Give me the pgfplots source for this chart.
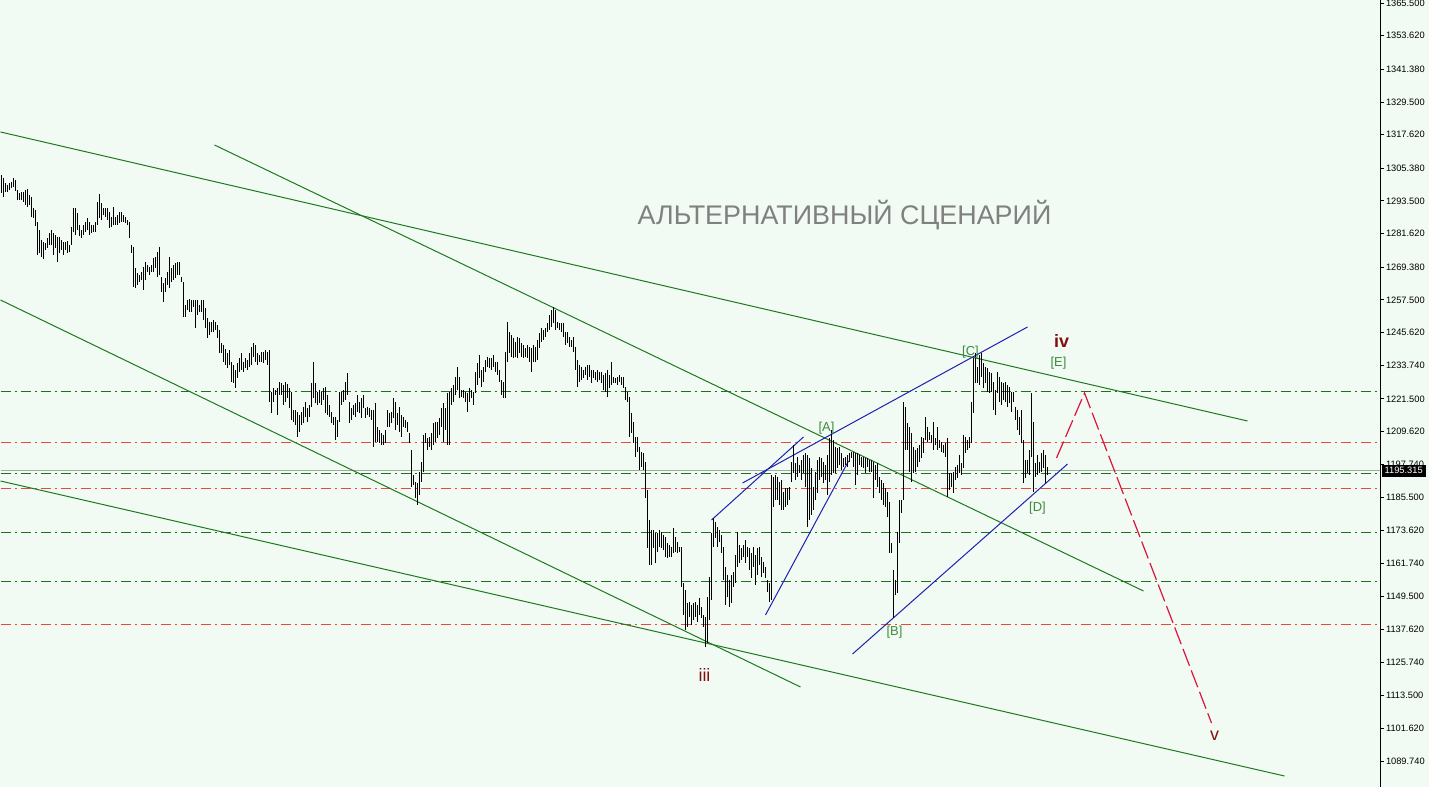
\documentclass[border=0pt]{standalone}
\usepackage{pgfplots}
\pgfplotsset{compat=1.18}
\usepackage{pgfplotstable}
\usepackage{fontspec}
\setmainfont{Liberation Sans}
\definecolor{bgc}{RGB}{241,250,243}
\definecolor{trendg}{RGB}{30,122,30}
\definecolor{hgreen}{RGB}{28,115,28}
\definecolor{hred}{RGB}{232,73,63}
\definecolor{bline}{RGB}{32,32,176}
\definecolor{fcast}{RGB}{220,20,60}
\definecolor{wave}{RGB}{128,16,16}
\definecolor{lblg}{RGB}{60,140,60}
\definecolor{titleg}{RGB}{128,128,128}

\pgfplotstableread{
x h l
1 1302.9 1296.2
3 1301.7 1295.0
5 1299.9 1296.9
7 1299.3 1296.6
9 1299.9 1297.5
11 1300.5 1298.1
13 1302.0 1298.7
15 1301.1 1297.1
17 1297.5 1293.8
19 1296.2 1293.8
21 1296.6 1293.8
23 1296.9 1293.2
25 1297.5 1292.0
27 1297.8 1291.4
29 1295.6 1292.0
31 1295.0 1287.8
33 1291.0 1287.2
35 1290.2 1284.5
37 1285.9 1273.8
39 1282.9 1274.4
41 1279.3 1273.2
43 1278.7 1272.4
45 1278.1 1275.6
47 1279.9 1276.2
49 1281.7 1277.4
51 1282.9 1277.4
53 1281.7 1273.8
55 1281.1 1276.2
57 1280.5 1271.4
59 1280.5 1274.4
61 1279.3 1275.6
63 1278.7 1273.8
65 1278.7 1275.6
67 1278.9 1274.4
69 1277.5 1274.8
71 1284.1 1277.4
73 1290.8 1282.3
75 1290.8 1281.1
77 1289.0 1282.9
79 1284.7 1280.8
81 1282.9 1279.9
83 1284.7 1281.1
85 1285.9 1282.3
87 1287.2 1282.9
89 1285.9 1281.1
91 1284.7 1281.7
93 1284.7 1282.3
95 1285.9 1282.3
97 1293.2 1284.7
99 1296.2 1287.2
101 1292.6 1286.6
103 1290.8 1288.4
105 1290.8 1287.8
107 1290.8 1286.6
109 1289.6 1283.5
111 1287.8 1284.1
113 1291.4 1284.7
115 1287.8 1284.7
117 1288.4 1284.7
119 1289.6 1285.3
121 1289.6 1285.9
123 1288.4 1285.9
125 1287.8 1285.3
127 1286.6 1284.7
129 1285.9 1279.9
131 1277.4 1274.4
133 1276.8 1262.3
135 1269.0 1261.7
137 1267.1 1262.9
139 1266.5 1264.1
141 1267.7 1264.7
143 1269.6 1261.1
145 1271.1 1264.7
147 1270.2 1267.7
149 1269.6 1266.5
151 1270.2 1267.7
153 1272.8 1267.7
155 1273.2 1269.0
157 1275.0 1265.9
159 1276.8 1266.5
161 1265.9 1260.5
163 1263.5 1256.8
165 1265.3 1260.5
167 1267.7 1262.9
169 1273.2 1261.7
171 1269.0 1264.1
173 1270.2 1264.7
175 1270.8 1265.3
177 1271.4 1266.5
179 1271.4 1266.5
181 1265.9 1264.1
183 1264.1 1251.4
185 1255.6 1251.4
187 1257.4 1253.8
189 1257.8 1253.2
191 1257.4 1253.2
193 1257.4 1255.0
195 1257.4 1247.1
197 1257.4 1252.0
199 1255.6 1253.2
201 1257.4 1253.2
203 1257.4 1250.2
205 1254.4 1247.1
207 1250.8 1243.5
209 1249.6 1244.7
211 1249.6 1245.9
213 1250.2 1245.9
215 1249.6 1246.5
217 1248.3 1243.5
219 1246.5 1238.0
221 1241.7 1238.0
223 1241.1 1235.0
225 1239.8 1233.8
227 1238.0 1232.6
229 1239.2 1233.8
231 1235.0 1227.7
233 1233.8 1227.1
235 1232.0 1225.3
237 1234.4 1228.9
239 1236.2 1231.4
241 1238.0 1232.0
243 1235.0 1231.4
245 1236.2 1232.6
247 1235.6 1232.0
249 1238.0 1233.2
251 1240.5 1233.8
253 1241.7 1236.8
255 1241.1 1235.0
257 1238.0 1233.8
259 1237.4 1235.0
261 1238.6 1235.0
263 1238.6 1234.4
265 1239.2 1235.6
267 1238.6 1233.8
269 1239.3 1220.5
271 1224.1 1216.2
273 1225.3 1220.5
275 1224.7 1222.9
277 1225.3 1215.6
279 1227.5 1222.9
281 1227.1 1222.9
283 1226.5 1219.3
285 1227.7 1220.5
287 1226.8 1221.7
289 1225.3 1218.0
291 1224.1 1213.8
293 1217.4 1213.2
295 1217.4 1212.0
297 1216.8 1207.7
299 1215.6 1209.5
301 1216.8 1212.0
303 1218.6 1212.6
305 1220.5 1215.0
307 1218.0 1213.2
309 1219.3 1215.0
311 1227.1 1218.6
313 1235.0 1221.7
315 1227.1 1219.9
317 1224.1 1219.3
319 1224.7 1219.9
321 1224.1 1219.3
323 1225.3 1221.1
325 1225.9 1216.2
327 1222.9 1215.6
329 1219.3 1215.0
331 1216.8 1212.6
333 1215.0 1212.0
335 1215.0 1206.5
337 1213.8 1207.7
339 1224.1 1213.2
341 1224.1 1219.3
343 1224.7 1220.5
345 1227.7 1221.1
347 1230.8 1222.9
349 1220.5 1212.6
351 1218.0 1213.8
353 1219.3 1215.6
355 1219.9 1215.0
357 1222.9 1216.8
359 1220.5 1216.2
361 1221.7 1214.4
363 1222.9 1218.0
365 1218.0 1214.4
367 1218.6 1215.6
369 1218.0 1215.0
371 1217.4 1213.8
373 1217.4 1204.1
375 1219.9 1205.9
377 1211.4 1205.9
379 1210.2 1205.3
381 1209.0 1204.7
383 1208.3 1204.7
385 1210.2 1205.3
387 1217.4 1211.4
389 1216.2 1211.4
391 1216.8 1212.6
393 1221.7 1214.4
395 1220.5 1210.2
397 1216.2 1212.0
399 1218.6 1209.5
401 1215.6 1207.7
403 1215.0 1211.4
405 1213.8 1210.8
407 1213.2 1209.5
409 1208.9 1205.3
411 1202.9 1189.5
413 1193.8 1190.2
415 1191.4 1185.3
417 1190.8 1182.9
419 1195.0 1186.5
421 1198.6 1191.4
423 1208.3 1195.0
425 1208.9 1205.3
427 1207.1 1202.9
429 1207.7 1204.1
431 1208.9 1202.9
433 1212.6 1204.7
435 1213.2 1205.9
437 1213.2 1207.1
439 1214.4 1208.3
441 1218.0 1211.4
443 1219.9 1205.9
445 1218.0 1210.2
447 1223.5 1204.7
449 1224.1 1204.7
451 1225.3 1219.3
453 1226.5 1220.5
455 1229.6 1222.9
457 1233.2 1224.7
459 1229.6 1221.7
461 1224.7 1222.3
463 1224.7 1221.7
465 1224.1 1220.5
467 1223.5 1216.8
469 1225.3 1220.5
471 1224.7 1221.7
473 1224.1 1219.3
475 1231.4 1223.5
477 1234.4 1226.5
479 1237.4 1229.0
481 1232.0 1225.9
483 1233.2 1227.7
485 1235.6 1231.4
487 1236.8 1233.2
489 1236.2 1232.6
491 1236.2 1232.0
493 1237.4 1233.2
495 1235.0 1231.4
497 1235.0 1230.2
499 1232.0 1227.7
501 1228.4 1222.9
503 1227.7 1221.7
505 1238.6 1221.7
507 1249.6 1235.0
509 1245.9 1238.0
511 1244.7 1236.8
513 1243.5 1236.2
515 1242.3 1236.8
517 1244.1 1236.2
519 1243.5 1238.0
521 1241.7 1236.8
523 1241.1 1236.2
525 1239.9 1236.8
527 1241.1 1236.2
529 1240.5 1235.0
531 1239.9 1231.4
533 1241.1 1235.0
535 1240.5 1235.0
537 1242.9 1235.6
539 1245.3 1239.9
541 1247.1 1242.3
543 1246.5 1242.9
545 1247.1 1244.1
547 1249.0 1245.9
549 1252.0 1246.5
551 1253.8 1247.7
553 1255.0 1249.0
555 1253.8 1246.5
557 1249.6 1247.1
559 1249.0 1246.5
561 1249.0 1245.9
563 1249.0 1244.1
565 1245.9 1241.1
567 1245.9 1241.7
569 1244.1 1240.5
571 1242.9 1240.5
573 1244.1 1238.6
575 1240.5 1232.0
577 1235.6 1225.9
579 1233.8 1227.7
581 1233.2 1228.3
583 1232.0 1228.9
585 1233.2 1230.2
587 1233.8 1228.3
589 1233.8 1229.6
591 1232.0 1227.1
593 1232.0 1228.9
595 1231.4 1228.3
597 1232.0 1227.7
599 1231.4 1228.3
601 1231.4 1227.1
603 1230.2 1224.7
605 1230.8 1224.1
607 1232.0 1222.3
609 1230.2 1225.3
611 1235.0 1226.5
613 1229.6 1227.1
615 1229.0 1227.1
617 1229.6 1226.5
619 1230.2 1227.7
621 1229.6 1226.5
623 1229.6 1225.3
625 1225.9 1221.1
627 1224.0 1220.5
629 1222.3 1207.7
631 1216.2 1208.9
633 1213.2 1205.3
635 1207.7 1200.5
637 1207.7 1202.3
639 1204.1 1195.6
641 1202.3 1196.8
643 1201.7 1195.6
645 1198.6 1185.3
647 1188.3 1167.1
649 1177.4 1161.0
651 1173.8 1161.0
653 1173.8 1167.1
655 1172.6 1161.6
657 1172.6 1165.9
659 1173.8 1167.7
661 1173.2 1167.1
663 1171.9 1166.5
665 1171.4 1164.1
667 1168.9 1163.5
669 1168.3 1164.1
671 1167.7 1164.1
673 1174.4 1165.3
675 1171.4 1165.9
677 1169.5 1165.3
679 1167.7 1165.9
681 1167.7 1153.2
683 1154.4 1142.9
685 1151.9 1137.4
687 1147.1 1138.6
689 1147.7 1142.3
691 1146.5 1139.2
693 1147.1 1141.0
695 1147.7 1142.3
697 1146.5 1140.4
699 1148.9 1142.9
701 1145.9 1141.6
703 1142.9 1138.6
705 1142.3 1131.3
707 1149.5 1132.5
709 1156.8 1141.0
711 1172.6 1148.3
713 1178.0 1167.7
715 1176.8 1170.8
717 1175.0 1167.7
719 1173.8 1169.5
721 1171.9 1165.3
723 1167.7 1155.6
725 1160.4 1146.5
727 1157.4 1149.5
729 1155.6 1145.9
731 1157.4 1147.1
733 1158.6 1153.2
735 1164.7 1154.4
737 1173.2 1160.4
739 1168.3 1161.6
741 1167.1 1162.9
743 1168.3 1164.1
745 1170.1 1161.6
747 1167.7 1164.1
749 1167.1 1159.2
751 1165.3 1156.2
753 1167.7 1160.4
755 1164.7 1153.8
757 1167.1 1157.4
759 1167.7 1161.0
761 1164.1 1156.8
763 1162.2 1158.0
765 1160.4 1156.2
767 1155.6 1151.3
769 1154.4 1147.7
771 1193.8 1148.3
773 1193.2 1182.3
775 1193.8 1184.7
777 1193.2 1184.7
779 1191.4 1182.9
781 1191.9 1181.1
783 1187.7 1181.1
785 1188.9 1182.3
787 1188.9 1182.9
789 1189.5 1184.7
791 1198.6 1191.4
793 1204.7 1194.4
795 1198.0 1191.9
797 1200.5 1193.2
799 1197.4 1194.4
801 1199.2 1192.0
803 1201.1 1194.4
805 1201.7 1189.5
807 1201.1 1175.0
809 1199.8 1177.4
811 1196.2 1179.2
813 1189.5 1181.0
815 1195.0 1184.7
817 1199.2 1187.1
819 1200.5 1192.0
821 1199.8 1193.2
823 1198.6 1190.8
825 1197.4 1192.0
827 1201.1 1186.5
829 1207.1 1191.4
831 1210.2 1193.8
833 1206.5 1194.4
835 1204.1 1194.4
837 1203.5 1196.2
839 1204.1 1197.4
841 1201.7 1195.6
843 1199.8 1196.8
845 1200.5 1197.4
847 1201.1 1196.8
849 1201.7 1198.6
851 1202.3 1199.8
853 1202.3 1196.8
855 1201.7 1190.1
857 1201.7 1193.8
859 1201.1 1197.4
861 1200.5 1196.8
863 1200.5 1196.2
865 1199.8 1194.4
867 1199.8 1196.8
869 1199.2 1195.0
871 1199.2 1195.0
873 1198.6 1185.3
875 1197.4 1192.0
877 1198.0 1189.5
879 1193.2 1187.1
881 1192.0 1184.7
883 1190.8 1182.9
885 1188.9 1182.3
887 1187.7 1178.6
889 1184.1 1165.3
891 1168.9 1165.3
893 1159.2 1141.6
895 1155.6 1150.1
897 1173.2 1150.7
899 1184.7 1168.9
901 1184.7 1179.8
903 1220.5 1184.7
905 1218.6 1202.9
907 1212.6 1202.9
909 1211.4 1195.0
911 1208.9 1191.4
913 1204.1 1194.4
915 1202.9 1195.0
917 1203.5 1196.8
919 1204.7 1198.6
921 1207.7 1199.8
923 1207.1 1201.7
925 1215.0 1206.5
927 1211.4 1205.9
929 1209.5 1206.5
931 1208.3 1205.3
933 1213.2 1202.9
935 1207.1 1204.7
937 1211.4 1202.9
939 1206.5 1203.5
941 1205.9 1202.3
943 1204.7 1201.7
945 1205.3 1200.5
947 1207.1 1185.9
949 1194.4 1188.3
951 1194.4 1189.5
953 1195.0 1187.1
955 1196.8 1192.0
957 1197.4 1192.6
959 1201.1 1194.4
961 1198.0 1193.8
963 1208.3 1196.2
965 1207.7 1201.7
967 1206.5 1202.9
969 1207.7 1203.5
971 1220.5 1205.3
973 1236.2 1216.2
975 1238.1 1227.1
977 1233.2 1227.1
979 1237.4 1226.5
981 1238.1 1229.6
983 1234.4 1225.3
985 1233.2 1227.1
987 1232.6 1224.1
989 1231.4 1223.5
991 1230.8 1224.1
993 1227.7 1217.4
995 1224.7 1215.6
997 1231.4 1223.5
999 1229.6 1220.5
1001 1227.7 1219.2
1003 1227.1 1221.1
1005 1227.7 1220.5
1007 1226.5 1218.6
1009 1225.9 1219.9
1011 1224.1 1216.8
1013 1224.1 1220.5
1015 1218.6 1213.8
1017 1217.4 1210.2
1019 1215.0 1208.3
1021 1217.4 1205.3
1023 1206.5 1190.8
1025 1199.2 1192.6
1027 1199.2 1194.4
1029 1202.9 1193.8
1031 1223.5 1200.5
1033 1213.2 1187.7
1035 1198.0 1193.2
1037 1201.1 1193.8
1039 1198.6 1194.4
1041 1201.7 1195.0
1043 1202.9 1196.2
1045 1201.1 1190.8
1047 1196.8 1193.8
}\bars

\begin{document}
\begin{tikzpicture}
\useasboundingbox (0,0) rectangle (1429bp,787bp);
\fill[bgc] (0,0) rectangle (1429bp,787bp);
\begin{axis}[
  at={(0,0)}, anchor=south west,
  scale only axis, width=1380bp, height=787bp,
  xmin=-0.5, xmax=1379.5, ymin=1080.28, ymax=1366.59,
  axis x line=none,
  axis y line*=right,
  axis line style={black, line width=1bp},
  tick align=outside,
  major tick length=4bp,
  tick style={black, line width=0.8bp},
  ytick={1365.5,1353.62,1341.38,1329.5,1317.62,1305.38,1293.5,1281.62,1269.38,1257.5,1245.62,1233.74,1221.5,1209.62,1197.74,1185.5,1173.62,1161.74,1149.5,1137.62,1125.74,1113.5,1101.62,1089.74},
  yticklabels={1365.500,1353.620,1341.380,1329.500,1317.620,1305.380,1293.500,1281.620,1269.380,1257.500,1245.620,1233.740,1221.500,1209.620,1197.740,1185.500,1173.620,1161.740,1149.500,1137.620,1125.740,1113.500,1101.620,1089.740},
  yticklabel style={font=\fontsize{9.3}{11}\selectfont, xshift=-1.5bp},
  /pgf/number format/assume math mode=true,
  clip=true,
]
% horizontal levels
\addplot[hgreen, line width=1bp, dash pattern=on 10bp off 4bp on 2bp off 4bp] coordinates {(0,1223.98) (1380,1223.98)};
\addplot[hred, line width=1bp, dash pattern=on 10bp off 4bp on 2bp off 4bp] coordinates {(0,1205.6) (1380,1205.6)};
\addplot[gray!70, line width=1bp] coordinates {(0,1195.315) (1380,1195.315)};
\addplot[hgreen, line width=1bp, dash pattern=on 10bp off 4bp on 2bp off 4bp] coordinates {(0,1194.15) (1380,1194.15)};
\addplot[hred, line width=1bp, dash pattern=on 10bp off 4bp on 2bp off 4bp] coordinates {(0,1188.8) (1380,1188.8)};
\addplot[hgreen, line width=1bp, dash pattern=on 10bp off 4bp on 2bp off 4bp] coordinates {(0,1172.9) (1380,1172.9)};
\addplot[hgreen, line width=1bp, dash pattern=on 10bp off 4bp on 2bp off 4bp] coordinates {(0,1155.2) (1380,1155.2)};
\addplot[hred, line width=1bp, dash pattern=on 10bp off 4bp on 2bp off 4bp] coordinates {(0,1139.47) (1380,1139.47)};
% green trend lines
\addplot[trendg, line width=1bp] coordinates {(0,1318.57) (1247,1213.43)};
\addplot[trendg, line width=1bp] coordinates {(214,1313.84) (1143,1151.58)};
\addplot[trendg, line width=1bp] coordinates {(0,1257.45) (800,1116.66)};
\addplot[trendg, line width=1bp] coordinates {(0,1191.60) (1284,1084.28)};
% blue lines
\addplot[bline, line width=1bp] coordinates {(711,1177.41) (803,1207.61)};
\addplot[bline, line width=1bp] coordinates {(742,1190.87) (1027,1247.63)};
\addplot[bline, line width=1bp] coordinates {(765,1142.85) (848,1198.88)};
\addplot[bline, line width=1bp] coordinates {(852,1128.66) (1067,1197.78)};
% forecast
\addplot[fcast, line width=1.2bp, dash pattern=on 18bp off 5bp] coordinates {(1056,1199.97) (1084,1223.62) (1211,1103.56)};
% price bars (high-low)
\addplot[draw=none, mark=none, mark size=0pt, error bars/.cd, y dir=both, y explicit, error mark=none,
  error bar style={draw=black, solid, line width=1bp}]
  table[x=x, y expr={(\thisrow{h}+\thisrow{l})/2}, y error expr={(\thisrow{h}-\thisrow{l})/2}] {\bars};
% texts
\node[titleg, font=\fontsize{27}{31}\selectfont] at (axis cs:844,1288.37) {АЛЬТЕРНАТИВНЫЙ СЦЕНАРИЙ};
\node[wave, font=\fontsize{18}{20}\selectfont] at (axis cs:704,1121.02) {iii};
\node[wave, font=\fontsize{18}{20}\selectfont\bfseries] at (axis cs:1061,1242.53) {iv};
\node[wave, font=\fontsize{18}{20}\selectfont] at (axis cs:1214,1098.83) {v};
\node[lblg, font=\fontsize{13}{15}\selectfont] at (axis cs:826,1210.88) {[A]};
\node[lblg, font=\fontsize{13}{15}\selectfont] at (axis cs:894,1136.67) {[B]};
\node[lblg, font=\fontsize{13}{15}\selectfont] at (axis cs:970,1238.53) {[C]};
\node[lblg, font=\fontsize{13}{15}\selectfont] at (axis cs:1037,1181.78) {[D]};
\node[lblg, font=\fontsize{13}{15}\selectfont] at (axis cs:1058,1234.53) {[E]};
\coordinate (cp) at (axis cs:1379.5,1195.315);
\end{axis}
\node[fill=black, text=white, anchor=west, inner xsep=3bp, inner ysep=2.5bp, font=\fontsize{9.3}{11}\selectfont, xshift=1.5bp] at (cp) {1195.315};
\end{tikzpicture}
\end{document}
